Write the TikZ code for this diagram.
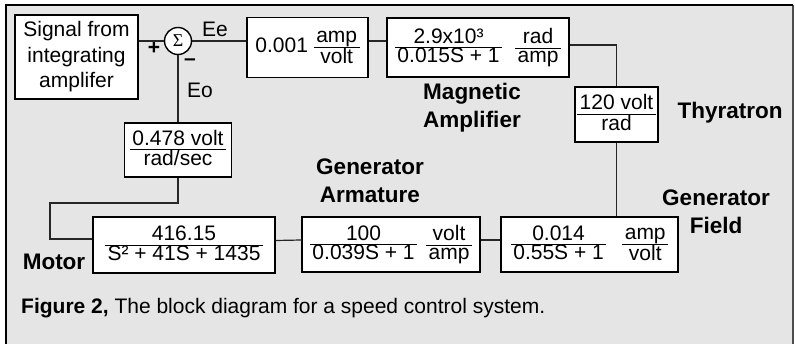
\documentclass[tikz,border=0pt]{standalone}
\usepackage{fontspec}
\setmainfont{Liberation Sans}
\newfontfamily\serifgreek{Liberation Serif}
\usetikzlibrary{calc}
\definecolor{bg}{HTML}{E5E5E5}
\setlength{\arrayrulewidth}{0.9pt}
\newcommand{\myfrac}[2]{{\renewcommand{\arraystretch}{0}\begin{tabular}{@{\hspace{2.5pt}}c@{\hspace{2.5pt}}}\rule[-4pt]{0pt}{20pt}#1\\\hline\rule[-5pt]{0pt}{19pt}#2\end{tabular}}}
\begin{document}
\begin{tikzpicture}[x=1pt,y=-1pt,
  every node/.style={font=\fontsize{21}{25.5}\selectfont, inner sep=0pt},
  blk/.style={draw=black, line width=1.4pt, fill=white, inner sep=0pt, anchor=center},
  conn/.style={line width=1.2pt, draw=black!85},
  lbl/.style={font=\fontsize{22.5}{28}\selectfont\bfseries, align=center}]
\useasboundingbox (0,0) rectangle (795,344);
\fill[white] (0,0) rectangle (795,344);
\fill[bg] (6,5) rectangle (793,344);
\draw[line width=1.5pt, black!70] (793,5) -- (793,344);
\draw[line width=2.2pt, black] (6,344) -- (6,5) -- (793,5);
% blocks
\node[blk, minimum width=123pt, minimum height=84pt, align=center] (sig) at (76.5,57) {Signal from\\integrating\\amplifer};
\node[draw, circle, line width=1.4pt, fill=white, minimum size=27pt, inner sep=0pt] (sum) at (178,41) {\serifgreek\fontsize{18}{18}\selectfont Σ};
\node (plus) at (154,48) {\textbf{+}};
\node (minus) at (190,62) {\textbf{–}};
\node (ee) at (215,29) {Ee};
\node (eo) at (200,90) {Eo};
\node[blk, minimum width=121pt, minimum height=60pt] (b1) at (307.5,47.5) {0.001 \myfrac{amp}{volt}};
\node[blk, minimum width=182pt, minimum height=59pt] (b2) at (478,47.5) {\myfrac{2.9x10³}{0.015S + 1}\hspace{13pt}\myfrac{rad}{amp}};
\node[blk, minimum width=83pt, minimum height=55pt] (b3) at (616.5,114.5) {\myfrac{120 volt}{rad}};
\node[blk, minimum width=177pt, minimum height=55pt] (b4) at (589.5,244.5) {\myfrac{0.014}{0.55S + 1}\hspace{16pt}\myfrac{amp}{volt}};
\node[blk, minimum width=178pt, minimum height=55pt] (b5) at (391,244.5) {\myfrac{100}{0.039S + 1}\hspace{9pt}\myfrac{volt}{amp}};
\node[blk, minimum width=182pt, minimum height=56pt] (b6) at (184,245) {\myfrac{416.15}{S² + 41S + 1435}};
\node[blk, minimum width=107pt, minimum height=54pt] (b7) at (178,150) {\myfrac{0.478 volt}{rad/sec}};
% labels
\node[lbl] (magl) at (472,108) {Magnetic\\Amplifier};
\node[lbl] (thyl) at (730,113) {Thyratron};
\node[lbl] (arml) at (370,181) {Generator\\Armature};
\node[lbl] (fldl) at (716,212) {Generator\\Field};
\node[lbl, anchor=base] (motl) at (54,270) {Motor};
\node[anchor=west] (cap) at (21,308) {\textbf{Figure 2,} The block diagram for a speed control system.};
% connectors
\draw[conn] (sig.east |- sum.west) -- (sum.west);
\draw[conn] (sum.east) -- (sum.east -| b1.west);
\draw[conn] (b1.east |- sum.east) -- (b2.west |- sum.east);
\draw[conn] ([yshift=2.5pt]b2.east) -| (b3.north);
\draw[conn] (b3.south) -- (b3.south |- b4.north);
\draw[conn] ([yshift=4.5pt]b4.west) -- ([yshift=4.5pt]b5.east);
\draw[conn] ([yshift=4.5pt]b5.west) -- ([yshift=4.5pt]b6.east);
\coordinate (fbL) at (50,203);
\draw[conn] ([yshift=6pt]b6.west) -| (fbL) -| (b7.south);
\draw[conn] (b7.north) -- (sum.south);
\end{tikzpicture}
\end{document}
